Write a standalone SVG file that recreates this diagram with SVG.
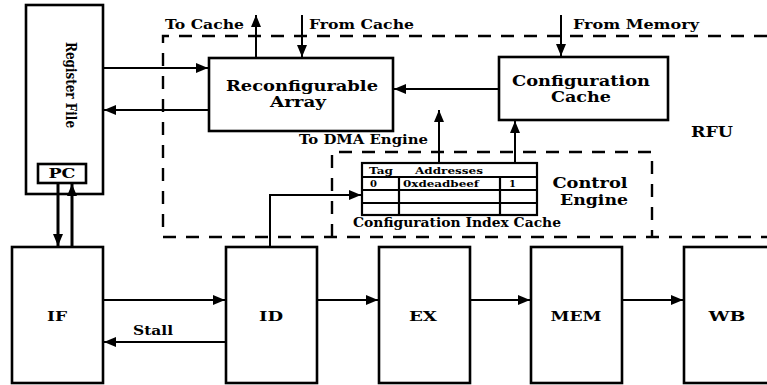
<svg xmlns="http://www.w3.org/2000/svg" width="767" height="385" viewBox="0 0 767 385">
  <style>
    .box { fill: #fff; stroke: #000; stroke-width: 2.6; }
    .cell { fill: none; stroke: #000; stroke-width: 2.2; }
    .dash { fill: none; stroke: #000; stroke-width: 2.4; stroke-dasharray: 13 10; }
    .wire { fill: none; stroke: #000; stroke-width: 2; marker-end: url(#head); }
    .bus { fill: none; stroke: #000; stroke-width: 3; marker-end: url(#head); }
    text { font-family: "DejaVu Serif", "Liberation Serif", serif; font-weight: bold; fill: #000; }
    .lbl { font-size: 12px; }
    .blk { font-size: 14px; text-anchor: middle; }
    .stg { font-size: 13px; text-anchor: middle; }
    .tbl { font-size: 10px; }
  </style>
  <defs>
    <marker id="head" markerUnits="userSpaceOnUse" markerWidth="14" markerHeight="12" refX="12" refY="5" orient="auto">
      <path d="M0,0 L12,5 L0,10 Z" fill="#000"/>
    </marker>
  </defs>

  <!-- dashed region boundaries -->
  <g id="rfu">
    <path class="dash" d="M767,36 H163 V237 H767"/>
    <text x="691" y="137" font-size="15" textLength="42" lengthAdjust="spacingAndGlyphs">RFU</text>
  </g>
  <g id="control-engine">
    <path class="dash" d="M332,237 V152 H652 V237"/>
    <text x="590" y="188" font-size="14.5" text-anchor="middle" textLength="75" lengthAdjust="spacingAndGlyphs">Control</text>
    <text x="594" y="205" font-size="14.5" text-anchor="middle" textLength="68" lengthAdjust="spacingAndGlyphs">Engine</text>
  </g>

  <!-- register file with program counter -->
  <g id="register-file">
    <rect class="box" x="26" y="5" width="77" height="189"/>
    <text transform="translate(66,42) rotate(90)" font-size="15" textLength="86" lengthAdjust="spacingAndGlyphs">Register File</text>
  </g>
  <g id="pc">
    <rect class="box" x="38" y="164" width="48" height="19"/>
    <text x="62" y="178" font-size="12" text-anchor="middle" textLength="27" lengthAdjust="spacingAndGlyphs">PC</text>
  </g>

  <!-- RFU blocks -->
  <g id="reconfigurable-array">
    <rect class="box" x="209" y="58" width="184" height="73"/>
    <text class="blk" x="302" y="91" textLength="152" lengthAdjust="spacingAndGlyphs">Reconfigurable</text>
    <text class="blk" x="298" y="107" textLength="56" lengthAdjust="spacingAndGlyphs">Array</text>
  </g>
  <g id="configuration-cache">
    <rect class="box" x="499" y="57" width="169" height="63"/>
    <text class="blk" x="581" y="86" textLength="138" lengthAdjust="spacingAndGlyphs">Configuration</text>
    <text class="blk" x="581" y="102" textLength="60" lengthAdjust="spacingAndGlyphs">Cache</text>
  </g>

  <!-- configuration index cache table -->
  <g id="index-cache">
    <rect class="cell" x="362" y="163" width="175" height="52"/>
    <path class="cell" d="M362,177 H537 M362,190 H537 M362,203 H537 M399,177 V215 M500,177 V215"/>
    <text class="tbl" x="369" y="174" textLength="24" lengthAdjust="spacingAndGlyphs">Tag</text>
    <text class="tbl" x="415" y="174" textLength="68" lengthAdjust="spacingAndGlyphs">Addresses</text>
    <text class="tbl" x="370" y="187">0</text>
    <text class="tbl" x="403" y="187" textLength="76" lengthAdjust="spacingAndGlyphs">0xdeadbeef</text>
    <text class="tbl" x="509" y="187">1</text>
    <text x="353" y="227" font-size="12" textLength="208" lengthAdjust="spacingAndGlyphs">Configuration Index Cache</text>
  </g>

  <!-- pipeline stages -->
  <g id="if">
    <rect class="box" x="12" y="247" width="91" height="136"/>
    <text class="stg" x="57" y="321" textLength="20" lengthAdjust="spacingAndGlyphs">IF</text>
  </g>
  <g id="id">
    <rect class="box" x="226" y="247" width="91" height="136"/>
    <text class="stg" x="271" y="321" textLength="24" lengthAdjust="spacingAndGlyphs">ID</text>
  </g>
  <g id="ex">
    <rect class="box" x="379" y="247" width="91" height="136"/>
    <text class="stg" x="423" y="321" textLength="28" lengthAdjust="spacingAndGlyphs">EX</text>
  </g>
  <g id="mem">
    <rect class="box" x="531" y="247" width="91" height="136"/>
    <text class="stg" x="576" y="321" textLength="51" lengthAdjust="spacingAndGlyphs">MEM</text>
  </g>
  <g id="wb">
    <rect class="box" x="684" y="247" width="91" height="136"/>
    <text class="stg" x="727" y="321" textLength="37" lengthAdjust="spacingAndGlyphs">WB</text>
  </g>

  <!-- connectors -->
  <g id="connectors">
    <path class="wire" d="M103,68 H208"/>
    <path class="wire" d="M209,110 H104"/>
    <path class="wire" d="M256,58 V15"/>
    <path class="wire" d="M302,15 V57"/>
    <path class="wire" d="M561,15 V56"/>
    <path class="wire" d="M499,89 H394"/>
    <path class="wire" d="M439,163 V110"/>
    <path class="wire" d="M515,163 V121"/>
    <path class="wire" d="M270,247 V195 H361"/>
    <path class="bus" d="M58,183 V246"/>
    <path class="bus" d="M72,247 V184"/>
    <path class="wire" d="M103,300 H225"/>
    <path class="wire" d="M226,342 H104"/>
    <path class="wire" d="M317,300 H378"/>
    <path class="wire" d="M470,300 H530"/>
    <path class="wire" d="M622,300 H683"/>
  </g>

  <!-- connector labels -->
  <g id="labels">
    <text class="lbl" x="165" y="29" textLength="79" lengthAdjust="spacingAndGlyphs">To Cache</text>
    <text class="lbl" x="309" y="29" textLength="105" lengthAdjust="spacingAndGlyphs">From Cache</text>
    <text class="lbl" x="573" y="29" textLength="126" lengthAdjust="spacingAndGlyphs">From Memory</text>
    <text class="lbl" x="299" y="144" textLength="129" lengthAdjust="spacingAndGlyphs">To DMA Engine</text>
    <text class="lbl" x="133" y="335" textLength="40" lengthAdjust="spacingAndGlyphs">Stall</text>
  </g>
</svg>
